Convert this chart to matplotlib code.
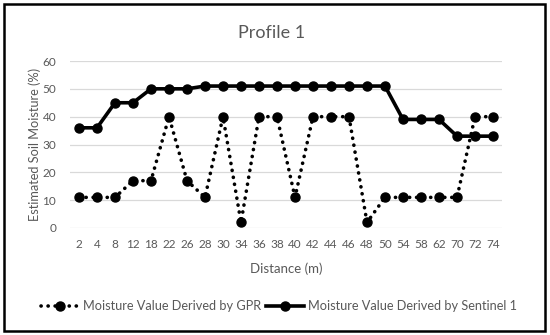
import matplotlib
matplotlib.use("Agg")
import matplotlib.pyplot as plt
from matplotlib.patches import Rectangle
import numpy as np

plt.rcParams['font.family'] = ['Lato', 'DejaVu Sans']

distance = ['2', '4', '8', '12', '18', '22', '26', '28', '30', '34', '36', '38',
            '40', '42', '44', '46', '48', '50', '54', '58', '62', '70', '72', '74']
gpr = [11, 11, 11, 17, 17, 40, 17, 11, 40, 2, 40, 40,
       11, 40, 40, 40, 2, 11, 11, 11, 11, 11, 40, 40]
sentinel = [36, 36, 45, 45, 50, 50, 50, 51, 51, 51, 51, 51,
            51, 51, 51, 51, 51, 51, 39, 39, 39, 33, 33, 33]

text_col = '#595959'

fig = plt.figure(figsize=(5.5, 3.35), dpi=100)
ax = fig.add_axes([70/550, 1-228/335, 432/550, 167/335])

x = np.arange(len(distance))
ax.plot(x, gpr, linestyle=(0, (0.05, 1.9)), dash_capstyle='round', linewidth=2.6,
        color='black', marker='o', markersize=6.5, label='Moisture Value Derived by GPR')
ax.plot(x, sentinel, linestyle='-', linewidth=2.6, color='black', marker='o',
        markersize=6.5, label='Moisture Value Derived by Sentinel 1')

ax.set_xlim(-0.5, len(distance) - 0.5)
ax.set_ylim(0, 60)
ax.set_yticks(range(0, 61, 10))
ax.set_xticks(x)
ax.set_xticklabels(distance)
ax.tick_params(length=0, labelsize=8.5, labelcolor=text_col, pad=8)
ax.tick_params(axis='y', pad=10)
ax.grid(axis='y', color='#d9d9d9', linewidth=0.9)
ax.set_axisbelow(True)
for s in ax.spines.values():
    s.set_visible(False)

ax.set_xlabel('Distance (m)', fontsize=9.5, color=text_col, labelpad=9)
ax.set_ylabel('Estimated Soil Moisture (%)', fontsize=9.2, color=text_col)
ax.yaxis.set_label_coords((41 - 70) / 432, 0.5)
fig.text(272/550, 1-33/335, 'Profile 1', ha='center', va='center', fontsize=13, color=text_col)

leg = fig.legend(loc='center', bbox_to_anchor=(279/550, 1-306/335), ncol=2, frameon=False,
                 fontsize=9.2, handlelength=3.0, columnspacing=0.4, handletextpad=0.3)
for t in leg.get_texts():
    t.set_color(text_col)

fig.patches.append(Rectangle((4/550, 4/335), 541/550, 327/335, transform=fig.transFigure,
                             fill=False, edgecolor='black', linewidth=1.8))

fig.savefig('out.png', dpi=100)
